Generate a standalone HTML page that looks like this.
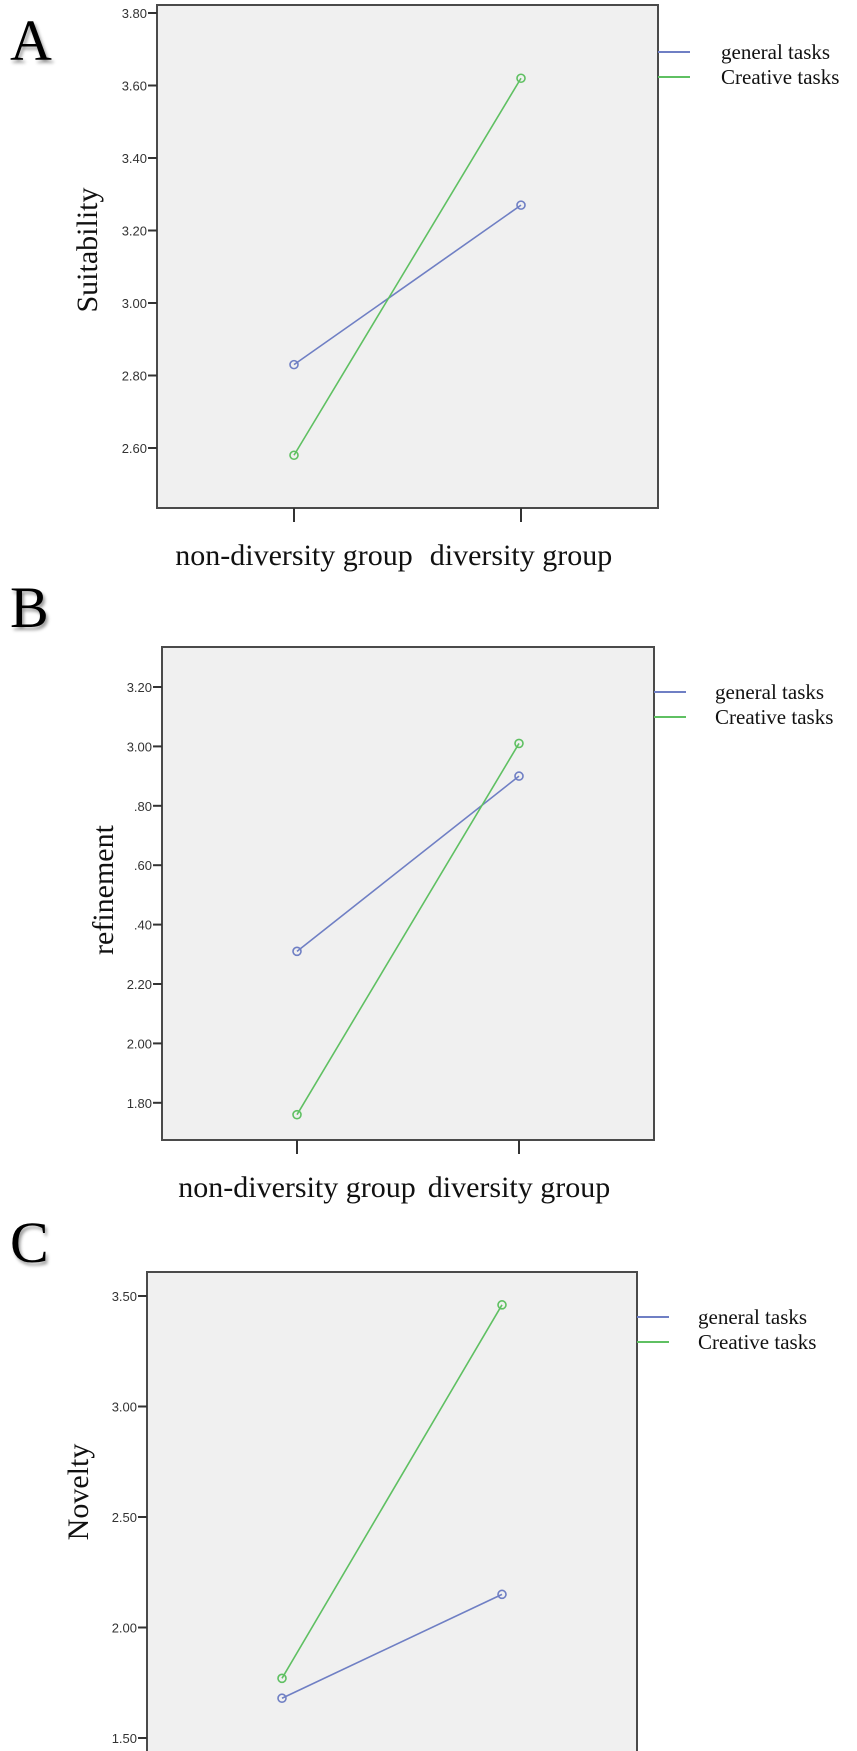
<!DOCTYPE html>
<html><head><meta charset="utf-8"><style>
html,body{margin:0;padding:0;background:#fff;}
svg{display:block;}
</style></head><body>
<svg id="fig" width="857" height="1751" viewBox="0 0 857 1751" xmlns="http://www.w3.org/2000/svg"></svg>
<script>
const categories = ["non-diversity group", "diversity group"];
const seriesNames = ["general tasks", "Creative tasks"];
const suitGeneral = [2.83, 3.27];
const suitCreative = [2.58, 3.62];
const suitTicks = [3.80, 3.60, 3.40, 3.20, 3.00, 2.80, 2.60];
const suitTickLabels = ["3.80", "3.60", "3.40", "3.20", "3.00", "2.80", "2.60"];
const refGeneral = [2.31, 2.90];
const refCreative = [1.76, 3.01];
const refTicks = [3.20, 3.00, 2.80, 2.60, 2.40, 2.20, 2.00, 1.80];
const refTickLabels = ["3.20", "3.00", ".80", ".60", ".40", "2.20", "2.00", "1.80"];
const novGeneral = [1.68, 2.15];
const novCreative = [1.77, 3.46];
const novTicks = [3.50, 3.00, 2.50, 2.00, 1.50];
const novTickLabels = ["3.50", "3.00", "2.50", "2.00", "1.50"];

const NS = "http://www.w3.org/2000/svg";
const svg = document.getElementById("fig");
function mk(tag, attrs, parent, text) {
  const e = document.createElementNS(NS, tag);
  for (const k in attrs) e.setAttribute(k, attrs[k]);
  if (text !== undefined) e.textContent = text;
  (parent || svg).appendChild(e);
  return e;
}
const BLUE = "#6f7fc4", GREEN = "#5fc062";

function panel(p) {
  const g = mk("g", {});
  
  
  const yScale = v => p.y0px + (p.y0val - v) * p.pxPer;
  const xPos = i => p.xTicks[0] + i * (p.xTicks[1] - p.xTicks[0]);
  const bg = mk("rect", {x: p.L, y: p.T, width: p.R - p.L, height: p.B - p.T, fill: "#f0f0f0", stroke: "#4a4a4a", "stroke-width": 2}, g);
  
  
  const letter = mk("text", {x: 10, y: p.letterY, "font-family": "Liberation Serif, serif", "font-size": 58, fill: "#000", style: "text-shadow:2px 3px 3px #999"}, g, p.letter);
  
  
  p.ticks.forEach((t, i) => {
    const y = yScale(t);
    const tk = mk("line", {x1: p.L - 9, x2: p.L, y1: y, y2: y, stroke: "#333", "stroke-width": 2}, g);
    
    
    const tl = mk("text", {x: p.L - 10, y: y + 5, "text-anchor": "end", "font-family": "Liberation Sans, sans-serif", "font-size": 13, fill: "#333"}, g, p.tickLabels[i]);
    
    
  });
  const yt = mk("text", {x: 0, y: 0, transform: `translate(${p.titleX},${p.titleY}) rotate(-90)`, "text-anchor": "middle", "font-family": "Liberation Serif, serif", "font-size": 30, fill: "#111"}, g, p.title);
  
  
  categories.forEach((c, i) => {
    const x = xPos(i);
    if (p.B < 1751) {
      const tk = mk("line", {x1: x, x2: x, y1: p.B, y2: p.B + 14, stroke: "#333", "stroke-width": 2}, g);
      
      
      const tl = mk("text", {x: x, y: p.B + 57, "text-anchor": "middle", "font-family": "Liberation Serif, serif", "font-size": 30, fill: "#111"}, g, c);
      
      
    }
  });
  [[p.gen, BLUE], [p.cre, GREEN]].forEach(([vals, col], si) => {
    const pts = vals.map((v, i) => xPos(i) + "," + yScale(v)).join(" ");
    const ln = mk("polyline", {points: pts, fill: "none", stroke: col, "stroke-width": 1.6}, g);
    
    
    vals.forEach((v, i) => {
      const c = mk("circle", {cx: xPos(i), cy: yScale(v), r: 4, fill: "none", stroke: col, "stroke-width": 1.6}, g);
      
      
    });
    const ly = p.legY + si * 25;
    const ll = mk("line", {x1: p.R, x2: p.R + 32, y1: ly, y2: ly, stroke: col, "stroke-width": 2}, g);
    
    
    const lt = mk("text", {x: p.legTextX, y: ly + 7, "font-family": "Liberation Serif, serif", "font-size": 21, fill: "#111"}, g, seriesNames[si]);
    
    
  });
}

panel({name: "panel-a-suitability", letter: "A", letterY: 60, L: 157, R: 658, T: 5, B: 508,
  y0val: 3.80, y0px: 13, pxPer: 72.5 / 0.2, ticks: suitTicks, tickLabels: suitTickLabels,
  xTicks: [294, 521], gen: suitGeneral, cre: suitCreative, title: "Suitability", titleX: 97, titleY: 250,
  legY: 52, legTextX: 721});
panel({name: "panel-b-refinement", letter: "B", letterY: 627, L: 162, R: 654, T: 647, B: 1140,
  y0val: 3.20, y0px: 687, pxPer: 59.4 / 0.2, ticks: refTicks, tickLabels: refTickLabels,
  xTicks: [297, 519], gen: refGeneral, cre: refCreative, title: "refinement", titleX: 113, titleY: 890,
  legY: 692, legTextX: 715});
panel({name: "panel-c-novelty", letter: "C", letterY: 1262, L: 147, R: 637, T: 1272, B: 1760,
  y0val: 3.50, y0px: 1296, pxPer: 221, ticks: novTicks, tickLabels: novTickLabels,
  xTicks: [282, 502], gen: novGeneral, cre: novCreative, title: "Novelty", titleX: 88, titleY: 1492,
  legY: 1317, legTextX: 698});
</script>
</body></html>
